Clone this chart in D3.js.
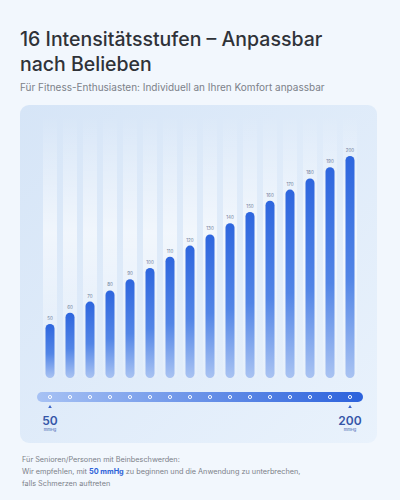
<!DOCTYPE html>
<html><head><meta charset="utf-8">
<script src="https://cdn.jsdelivr.net/npm/d3@7"></script>
<style>body{margin:0;background:#f2f7fd}svg{display:block;font-family:Inter,"Noto Sans",sans-serif}</style>
</head><body><svg id="c" width="400" height="500"></svg>
<script>
var levels = [50, 60, 70, 80, 90, 100, 110, 120, 130, 140, 150, 160, 170, 180, 190, 200];
var titleLines = ['16 Intensitätsstufen – Anpassbar', 'nach Belieben'];
var subtitle = 'Für Fitness-Enthusiasten: Individuell an Ihren Komfort anpassbar';

var svg = d3.select('#c');
var defs = svg.append('defs');

var bg = defs.append('linearGradient').attr('id', 'bg').attr('x1', 0).attr('y1', 0).attr('x2', 1).attr('y2', 1);
bg.append('stop').attr('offset', 0).attr('stop-color', '#d6e5f7');
bg.append('stop').attr('offset', 1).attr('stop-color', '#e9f2fc');

var bar = defs.append('linearGradient').attr('id', 'bar').attr('x1', 0).attr('y1', 0).attr('x2', 0).attr('y2', 1);
bar.append('stop').attr('offset', 0).attr('stop-color', '#2e66de');
bar.append('stop').attr('offset', 0.55).attr('stop-color', '#5285e6');
bar.append('stop').attr('offset', 1).attr('stop-color', '#a9c3f2');

var ghost = defs.append('linearGradient').attr('id', 'ghost').attr('x1', 0).attr('y1', 0).attr('x2', 0).attr('y2', 1);
ghost.append('stop').attr('offset', 0).attr('stop-color', '#fff').attr('stop-opacity', 0);
ghost.append('stop').attr('offset', 0.45).attr('stop-color', '#fff').attr('stop-opacity', 0.6);
ghost.append('stop').attr('offset', 1).attr('stop-color', '#fff').attr('stop-opacity', 0.1);

var slide = defs.append('linearGradient').attr('id', 'slide');
slide.append('stop').attr('offset', 0).attr('stop-color', '#a7c2f4');
slide.append('stop').attr('offset', 1).attr('stop-color', '#2c62dc');

// title
svg.selectAll('.title').data(titleLines).enter().append('text')
  .attr('x', 20).attr('y', function (d, i) { return 46 + i * 25; })
  .attr('font-size', 19.5).attr('font-weight', 500).attr('fill', '#2f3238')
  .text(function (d) { return d; });
svg.append('text').attr('x', 20).attr('y', 91).attr('font-size', 10).attr('fill', '#7c8189').text(subtitle);

// card
svg.append('rect').attr('x', 20).attr('y', 105).attr('width', 357).attr('height', 338)
  .attr('rx', 9).attr('fill', 'url(#bg)');

var x = d3.scaleBand().domain(levels).range([40, 360]).paddingInner(0);
var y = d3.scaleLinear().domain([0, 200]).range([380, 156]);
var bw = 9;
var cx = function (d) { return x(d) + x.bandwidth() / 2; };

svg.selectAll('.ghost').data(levels).enter().append('rect')
  .attr('x', function (d) { return cx(d) - 7; }).attr('y', 115)
  .attr('width', 14).attr('height', 262).attr('fill', 'url(#ghost)');

svg.selectAll('.bar').data(levels).enter().append('rect')
  .attr('x', function (d) { return cx(d) - bw / 2; })
  .attr('y', function (d) { return y(d); })
  .attr('width', bw).attr('height', function (d) { return 378 - y(d); })
  .attr('rx', bw / 2).attr('fill', 'url(#bar)');

svg.selectAll('.lbl').data(levels).enter().append('text')
  .attr('x', cx).attr('y', function (d) { return y(d) - 4; })
  .attr('text-anchor', 'middle').attr('font-size', 4.5).attr('fill', '#6d7d99')
  .text(function (d) { return d; });

// slider
svg.append('rect').attr('x', 37).attr('y', 392).attr('width', 326).attr('height', 10)
  .attr('rx', 5).attr('fill', 'url(#slide)');
svg.selectAll('.dot').data(levels).enter().append('circle')
  .attr('cx', cx).attr('cy', 397).attr('r', 1.6)
  .attr('fill', 'none').attr('stroke', '#fff').attr('stroke-width', 0.9);

var ends = [levels[0], levels[levels.length - 1]];
var endG = svg.selectAll('.end').data(ends).enter().append('g')
  .attr('transform', function (d) { return 'translate(' + cx(d) + ',0)'; });
endG.append('path').attr('d', 'M0,405 L1.8,408 L-1.8,408 Z').attr('fill', '#3a64c8');
endG.append('text').attr('y', 425).attr('text-anchor', 'middle').attr('font-size', 12)
  .attr('font-weight', 600).attr('fill', '#3556a8').text(function (d) { return d; });
endG.append('text').attr('y', 431).attr('text-anchor', 'middle').attr('font-size', 4)
  .attr('fill', '#3556a8').text('mmHg');

// note
var note = svg.append('g').attr('font-size', 7.3).attr('fill', '#7c8189');
note.append('text').attr('x', 22).attr('y', 462).text('Für Senioren/Personen mit Beinbeschwerden:');
var l2 = note.append('text').attr('x', 22).attr('y', 474);
l2.append('tspan').text('Wir empfehlen, mit ');
l2.append('tspan').attr('fill', '#2d62d8').attr('font-weight', 700).text('50 mmHg');
l2.append('tspan').text(' zu beginnen und die Anwendung zu unterbrechen,');
note.append('text').attr('x', 22).attr('y', 486).text('falls Schmerzen auftreten');
</script></body></html>
